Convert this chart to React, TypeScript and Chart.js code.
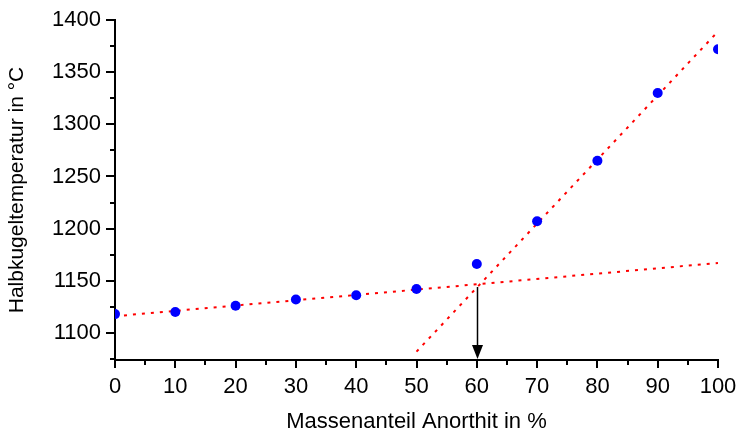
import React, { useEffect, useRef } from "react";
import { Chart, registerables } from "chart.js";

Chart.register(...registerables);

// Data
const anorthitPct = [0, 10, 20, 30, 40, 50, 60, 70, 80, 90, 100];
const hemisphereTemp = [1118, 1120, 1126, 1132, 1136, 1142, 1166, 1207, 1265, 1330, 1372];

const lowFitX = [0, 100];
const lowFitY = [1116, 1167];
const steepFitX = [50, 100];
const steepFitY = [1082, 1389];

const arrowX = 60;
const arrowFromY = 1144;

const xTickValues = [0, 10, 20, 30, 40, 50, 60, 70, 80, 90, 100];
const xMinorTicks = [5, 15, 25, 35, 45, 55, 65, 75, 85, 95];
const yTickValues = [1100, 1150, 1200, 1250, 1300, 1350, 1400];
const yMinorTicks = [1075, 1125, 1175, 1225, 1275, 1325, 1375];

const X_MIN = 0;
const X_MAX = 100;
const Y_MIN = 1074;
const Y_MAX = 1400;

const FONT = "'Liberation Sans', Arial, sans-serif";

const ticksAndArrow = {
  id: "ticksAndArrow",
  afterDraw(chart: any) {
    const ctx = chart.ctx;
    const xs = chart.scales.x;
    const ys = chart.scales.y;
    const axisY = chart.chartArea.bottom;
    const axisX = chart.chartArea.left;
    ctx.save();
    ctx.strokeStyle = "#000";
    ctx.lineWidth = 2;
    ctx.beginPath();
    xTickValues.forEach((v) => {
      const px = Math.round(xs.getPixelForValue(v));
      ctx.moveTo(px, axisY);
      ctx.lineTo(px, axisY + 8);
    });
    xMinorTicks.forEach((v) => {
      const px = Math.round(xs.getPixelForValue(v));
      ctx.moveTo(px, axisY);
      ctx.lineTo(px, axisY + 5);
    });
    yTickValues.forEach((v) => {
      const py = Math.round(ys.getPixelForValue(v));
      ctx.moveTo(axisX, py);
      ctx.lineTo(axisX - 9, py);
    });
    yMinorTicks.forEach((v) => {
      if (v < Y_MIN) return;
      const py = Math.round(ys.getPixelForValue(v));
      ctx.moveTo(axisX, py);
      ctx.lineTo(axisX - 5, py);
    });
    ctx.stroke();

    // arrow
    const ax = Math.round(xs.getPixelForValue(arrowX)) + 0.5;
    const ay0 = ys.getPixelForValue(arrowFromY);
    const ay1 = axisY - 1;
    const headH = 14;
    const headW = 5.5;
    ctx.lineWidth = 1.5;
    ctx.beginPath();
    ctx.moveTo(ax, ay0);
    ctx.lineTo(ax, ay1 - headH + 2);
    ctx.stroke();
    ctx.fillStyle = "#000";
    ctx.beginPath();
    ctx.moveTo(ax - headW, ay1 - headH);
    ctx.lineTo(ax + headW, ay1 - headH);
    ctx.lineTo(ax, ay1);
    ctx.closePath();
    ctx.fill();
    ctx.restore();
  },
};

export default function App() {
  const canvasRef = useRef<HTMLCanvasElement | null>(null);

  useEffect(() => {
    if (!canvasRef.current) return;
    const pts = anorthitPct.map((x, i) => ({ x, y: hemisphereTemp[i] }));
    const low = lowFitX.map((x, i) => ({ x, y: lowFitY[i] }));
    const steep = steepFitX.map((x, i) => ({ x, y: steepFitY[i] }));

    const chart = new Chart(canvasRef.current, {
      type: "scatter",
      data: {
        datasets: [
          {
            data: low,
            showLine: true,
            borderColor: "#ff0000",
            borderWidth: 2,
            borderDash: [3, 6],
            pointRadius: 0,
            order: 2,
          },
          {
            data: steep,
            showLine: true,
            borderColor: "#ff0000",
            borderWidth: 2,
            borderDash: [3, 6],
            pointRadius: 0,
            order: 2,
          },
          {
            data: pts,
            backgroundColor: "#0000ff",
            borderColor: "#0000ff",
            pointRadius: 5,
            borderWidth: 0,
            order: 1,
          },
        ],
      },
      options: {
        animation: false,
        responsive: false,
        maintainAspectRatio: false,
        layout: { padding: { left: 0, top: 20, right: 27, bottom: 0 } },
        plugins: {
          legend: { display: false },
          tooltip: { enabled: false },
        },
        scales: {
          x: {
            type: "linear",
            min: X_MIN,
            max: X_MAX,
            grid: { display: false, drawTicks: false },
            border: { display: true, color: "#000", width: 2 },
            afterBuildTicks: (s: any) => {
              s.ticks = xTickValues.map((v) => ({ value: v }));
            },
            afterFit: (s: any) => {
              s.height = 72;
              s.paddingLeft = 0;
              s.paddingRight = 0;
            },
            ticks: {
              color: "#000",
              padding: 14,
              maxRotation: 0,
              autoSkip: false,
              font: { family: FONT, size: 22 },
              callback: (v: any) => String(v),
            },
            title: {
              display: true,
              text: "Massenanteil Anorthit in %",
              color: "#000",
              font: { family: FONT, size: 22 },
              padding: { top: 0, bottom: -3 },
            },
          },
          y: {
            type: "linear",
            min: Y_MIN,
            max: Y_MAX,
            grid: { display: false, drawTicks: false },
            border: { display: true, color: "#000", width: 2 },
            afterBuildTicks: (s: any) => {
              s.ticks = yTickValues.map((v) => ({ value: v }));
            },
            afterFit: (s: any) => {
              s.width = 115;
              s.paddingTop = 0;
              s.paddingBottom = 0;
            },
            ticks: {
              color: "#000",
              padding: 14,
              autoSkip: false,
              font: { family: FONT, size: 22 },
              callback: (v: any) => String(v),
            },
            title: {
              display: true,
              text: "Halbkugeltemperatur in °C",
              color: "#000",
              font: { family: FONT, size: 21 },
              padding: { top: 5, bottom: 0 },
            },
          },
        },
      },
      plugins: [ticksAndArrow],
    });
    return () => chart.destroy();
  }, []);

  return (
    <div style={{ position: "fixed", left: 0, top: 0, width: 745, height: 432, background: "#fff" }}>
      <canvas ref={canvasRef} width={745} height={432} style={{ width: 745, height: 432, display: "block" }} />
    </div>
  );
}
